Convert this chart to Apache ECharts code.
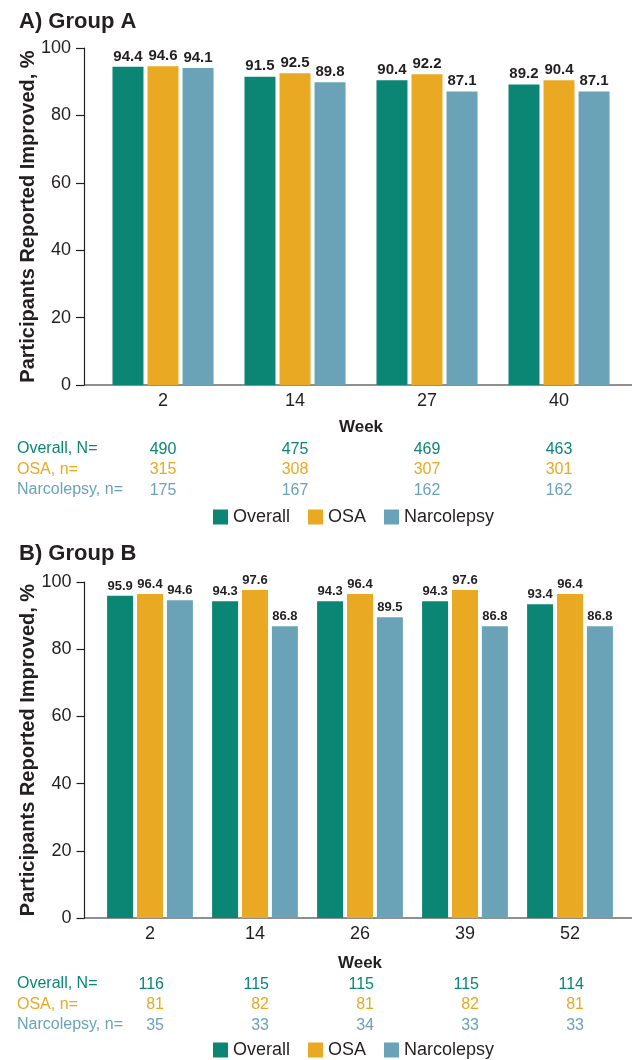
<!DOCTYPE html>
<html><head><meta charset="utf-8">
<script src="https://cdn.jsdelivr.net/npm/echarts@6/dist/echarts.min.js"></script>
<style>html,body{margin:0;padding:0;background:#fff}#c{width:638px;height:1060px}</style>
</head><body><div id="c"></div>
<script>
const weeksA = ['2','14','27','40'];
const overallA = [94.4,91.5,90.4,89.2];
const osaA = [94.6,92.5,92.2,90.4];
const narcA = [94.1,89.8,87.1,87.1];
const nOverallA = [490,475,469,463];
const nOsaA = [315,308,307,301];
const nNarcA = [175,167,162,162];

const weeksB = ['2','14','26','39','52'];
const overallB = [95.9,94.3,94.3,94.3,93.4];
const osaB = [96.4,97.6,96.4,97.6,96.4];
const narcB = [94.6,86.8,89.5,86.8,86.8];
const nOverallB = [116,115,115,115,114];
const nOsaB = [81,82,81,82,81];
const nNarcB = [35,33,34,33,33];

const rowHeaders = ['Overall, N=','OSA, n=','Narcolepsy, n='];
const seriesNames = ['Overall','OSA','Narcolepsy'];

const C_TEAL = '#0b8675', C_ORANGE = '#e9a923', C_BLUE = '#6aa3b8', C_TXT = '#231f20';
const FONT = '"Liberation Sans", Arial, sans-serif';

const chart = echarts.init(document.getElementById('c'), null, {renderer:'canvas'});

const grids = [
  {left:97, right:13, top:48, height:337},
  {left:97.5, right:15.5, top:582, height:336}
];

function yAxis(gi){
  return {
    type:'value', gridIndex:gi, min:0, max:100, interval:20, offset:13,
    name:'Participants Reported Improved, %', nameLocation:'middle', nameGap:46, nameMoveOverlap:false,
    nameTextStyle:{fontSize:20, fontWeight:'bold', color:C_TXT, fontFamily:FONT},
    axisLine:{show:true, lineStyle:{color:C_TXT, width:1.2}},
    axisTick:{show:true, length:8, lineStyle:{color:C_TXT, width:1.2}},
    axisLabel:{fontSize:18, color:C_TXT, fontFamily:FONT, margin:13},
    splitLine:{show:false}
  };
}
function xAxis(gi, weeks, gap){
  return {
    type:'category', gridIndex:gi, data:weeks,
    name:'Week', nameLocation:'middle', nameGap:gap, nameMoveOverlap:false,
    nameTextStyle:{fontSize:17, fontWeight:'bold', color:C_TXT, fontFamily:FONT},
    axisLine:{show:false}, axisTick:{show:false},
    axisLabel:{fontSize:18, color:C_TXT, fontFamily:FONT, margin:7}
  };
}
function nAxis(gi, weeks, a, b, c, w, al, off){
  return {
    type:'category', gridIndex:gi, data:weeks, position:'bottom', offset:off,
    axisLine:{show:false}, axisTick:{show:false},
    axisLabel:{
      margin:7, fontFamily:FONT,
      formatter:(v,i)=>'{a|'+a[i]+'}\n{b|'+b[i]+'}\n{c|'+c[i]+'}',
      rich:{
        a:{color:C_TEAL, fontSize:16, lineHeight:20.5, width:w, align:al, fontFamily:FONT},
        b:{color:C_ORANGE, fontSize:16, lineHeight:20.5, width:w, align:al, fontFamily:FONT},
        c:{color:C_BLUE, fontSize:16, lineHeight:20.5, width:w, align:al, fontFamily:FONT}
      }
    }
  };
}
function bars(gi, arrs, bw, gap, fs){
  const cols = [C_TEAL, C_ORANGE, C_BLUE];
  return arrs.map((d,k)=>({
    type:'bar', name:seriesNames[k], xAxisIndex:gi*2, yAxisIndex:gi, data:d,
    barWidth:bw, barGap:gap, itemStyle:{color:cols[k]},
    label:{show:true, position:'top', distance:3, fontSize:fs, fontWeight:'bold', color:C_TXT, fontFamily:FONT,
      formatter:p=>p.value.toFixed(1)}
  }));
}
function legend(top){
  return {data:seriesNames, left:208, top:top, icon:'rect', itemWidth:15, itemHeight:15, itemGap:18,
    textStyle:{fontSize:18, color:C_TXT, fontFamily:FONT}, selectedMode:false};
}
function headers(yStart){
  const cols = [C_TEAL, C_ORANGE, C_BLUE];
  return rowHeaders.map((t,k)=>({type:'text', left:17, top:yStart + k*20.5,
    style:{text:t, fill:cols[k], fontSize:16, fontFamily:FONT}}));
}

chart.setOption({
  animation:false,
  title:[
    {text:'A) Group A', left:14, top:6, textStyle:{fontSize:22, fontWeight:'bold', color:C_TXT, fontFamily:FONT}},
    {text:'B) Group B', left:14, top:538, textStyle:{fontSize:22, fontWeight:'bold', color:C_TXT, fontFamily:FONT}}
  ],
  grid:grids,
  xAxis:[xAxis(0,weeksA,34), nAxis(0,weeksA,nOverallA,nOsaA,nNarcA,30,'center',47),
         xAxis(1,weeksB,37), nAxis(1,weeksB,nOverallB,nOsaB,nNarcB,28,'right',49)],
  yAxis:[yAxis(0), yAxis(1)],
  legend:[legend(503), legend(1036)],
  series:[...bars(0,[overallA,osaA,narcA],31,'13%',15), ...bars(1,[overallB,osaB,narcB],26,'15%',13)],
  graphic:[
    {type:'line', shape:{x1:84, y1:385, x2:632, y2:385}, style:{stroke:C_TXT, lineWidth:1.2}},
    {type:'line', shape:{x1:84, y1:918, x2:632, y2:918}, style:{stroke:C_TXT, lineWidth:1.2}},
    ...headers(441), ...headers(976)
  ]
});
</script></body></html>
